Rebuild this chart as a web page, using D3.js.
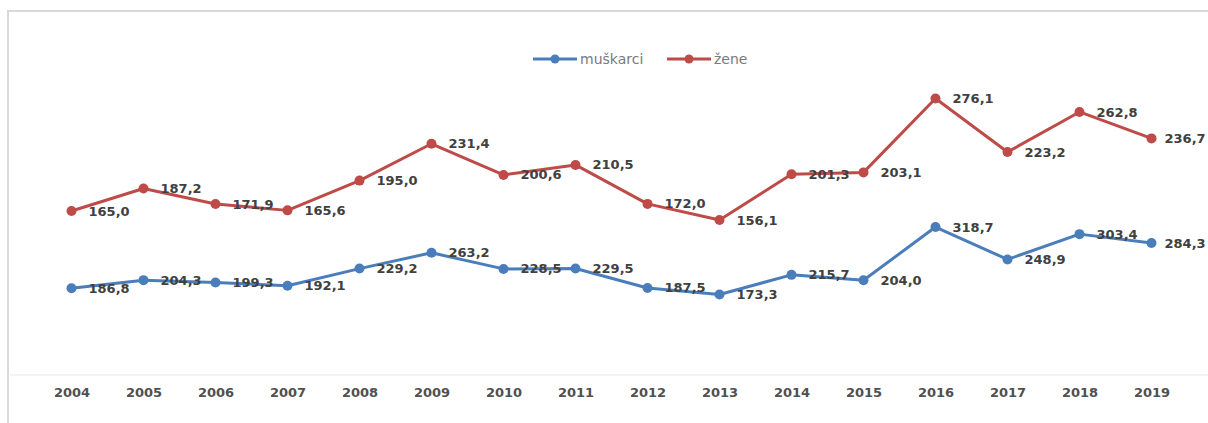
<!DOCTYPE html>
<meta charset="utf-8">
<head>
    <meta charset="UTF-8">
    <title>muškarci / žene 2004-2019</title>
    <style>
      body { margin: 0; background: #fff; }
    </style>
</head>
<body>
<script src="https://d3js.org/d3.v7.min.js"></script>

<div id="chart"></div>
<script>

    // data
    const years = ["2004", "2005", "2006", "2007", "2008", "2009", "2010", "2011",
                   "2012", "2013", "2014", "2015", "2016", "2017", "2018", "2019"]
    const muskarci = [186.8, 204.3, 199.3, 192.1, 229.2, 263.2, 228.5, 229.5,
                      187.5, 173.3, 215.7, 204.0, 318.7, 248.9, 303.4, 284.3]
    const zene = [165.0, 187.2, 171.9, 165.6, 195.0, 231.4, 200.6, 210.5,
                  172.0, 156.1, 201.3, 203.1, 276.1, 223.2, 262.8, 236.7]
    const seriesNames = ["muškarci", "žene"]

    const width = 1208, height = 423

    const svg = d3.select("#chart")
      .append("svg")
        .attr("width", width)
        .attr("height", height)

    // light frame (top and left edges visible)
    svg.append("rect")
        .attr("x", 8)
        .attr("y", 11)
        .attr("width", width + 20)
        .attr("height", height + 20)
        .style("fill", "none")
        .style("stroke", "#d9d9d9")
        .style("stroke-width", 2)

    // x scale
    const x = d3.scalePoint()
      .domain(years)
      .range([71.5, 1151.5])

    // two value axes (hidden), like the excel original
    const yLeft = d3.scaleLinear()
      .domain([0, 700])
      .range([375, 50])
    const yRight = d3.scaleLinear()
      .domain([3, 324])
      .range([375, 50])

    // x axis
    const xAxis = svg.append("g")
      .attr("transform", "translate(0,375)")
      .call(d3.axisBottom(x).tickSize(0).tickPadding(13))
    xAxis.select(".domain")
      .attr("d", "M10,0H1208")
      .style("stroke", "#efefef")
      .style("stroke-width", 1.5)
    xAxis.selectAll("text")
      .style("font-family", "'DejaVu Sans', sans-serif")
      .style("font-size", "13px")
      .style("font-weight", "bold")
      .style("fill", "#505050")

    const fmt = v => d3.format(".1f")(v).replace(".", ",")

    const series = [
      {name: seriesNames[0], values: muskarci, y: yLeft, color: "#4a7ebb"},
      {name: seriesNames[1], values: zene, y: yRight, color: "#be4b48"}
    ]

    series.forEach(function(s) {
      const line = d3.line()
        .x((d, i) => x(years[i]))
        .y(d => s.y(d))

      svg.append("path")
        .datum(s.values)
        .attr("d", line)
        .style("fill", "none")
        .style("stroke", s.color)
        .style("stroke-width", 3)
        .style("stroke-linejoin", "round")

      svg.selectAll(null)
        .data(s.values)
        .join("circle")
          .attr("cx", (d, i) => x(years[i]))
          .attr("cy", d => s.y(d))
          .attr("r", 5)
          .style("fill", s.color)
    })

    // data labels, right of each marker (last one pulled in a bit at the edge)
    const last = years.length - 1
    series.forEach(function(s) {
      svg.selectAll(null)
        .data(s.values)
        .join("text")
          .attr("x", (d, i) => x(years[i]) + (i === last ? 13 : 17))
          .attr("y", d => s.y(d))
          .attr("dy", "0.35em")
          .style("font-family", "'DejaVu Sans', sans-serif")
          .style("font-size", "13px")
          .style("font-weight", "bold")
          .style("fill", "#404040")
          .text(d => fmt(d))
    })

    // legend
    const legend = svg.append("g")
      .attr("transform", "translate(533,59)")
    const legendX = [0, 134]
    series.forEach(function(s, i) {
      const g = legend.append("g").attr("transform", `translate(${legendX[i]},0)`)
      g.append("line")
        .attr("x1", 0).attr("x2", 44)
        .style("stroke", s.color)
        .style("stroke-width", 3)
      g.append("circle")
        .attr("cx", 22).attr("r", 4.5)
        .style("fill", s.color)
      g.append("text")
        .attr("x", 47)
        .attr("dy", "0.35em")
        .style("font-family", "'DejaVu Sans', sans-serif")
        .style("font-size", "14px")
        .style("fill", "#7a7a7a")
        .text(s.name)
    })
</script>
</body>
